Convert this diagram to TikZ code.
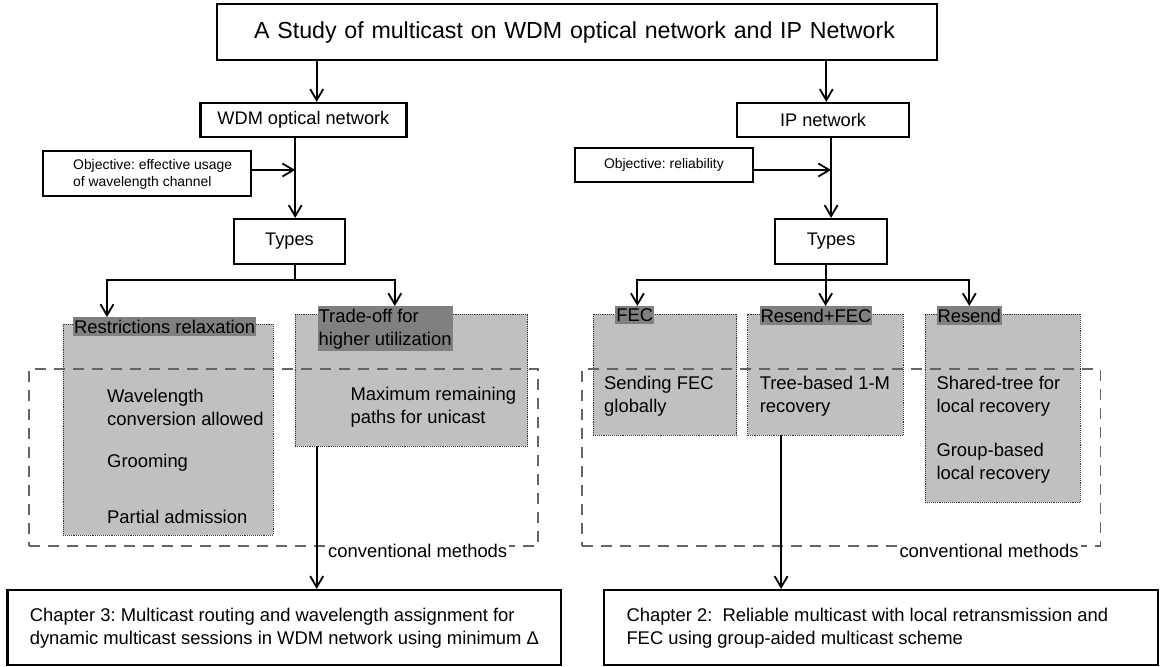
\documentclass[tikz,border=0pt]{standalone}
\usepackage{fontspec}
\setmainfont{Liberation Sans}
\usetikzlibrary{arrows.meta,calc}
\definecolor{boxgray}{RGB}{192,192,192}
\definecolor{labgray}{RGB}{128,128,128}
\definecolor{dashgray}{RGB}{100,100,100}
\tikzset{
  solidbox/.style={draw=black, line width=2.2pt, rectangle, inner sep=0pt},
  conn/.style={line width=2pt, -{Straight Barb[length=11pt,width=13pt,line width=1.8pt]}},
  plain/.style={line width=2pt},
  graybox/.style={draw=black!80, densely dotted, line width=0.9pt, fill=boxgray, rectangle, inner sep=0pt},
  grouplabel/.style={fill=labgray, inner xsep=1pt, inner ysep=2.5pt, align=left, font=\fontsize{18.4}{23}\selectfont},
  bodytext/.style={inner sep=0pt, anchor=west, align=left, font=\fontsize{18.4}{23}\selectfont},
  methodframe/.style={draw=dashgray, dash pattern=on 11pt off 8pt, line width=1.4pt, rectangle, inner sep=0pt},
  methodlabel/.style={fill=white, inner xsep=2pt, inner ysep=1pt, anchor=west, font=\fontsize{18.4}{23}\selectfont},
}
\begin{document}
\frenchspacing
\begin{tikzpicture}[x=1pt,y=-1pt]
\useasboundingbox (0,0) rectangle (1160,667);

% headline and the two network branches
\node[solidbox, minimum width=720pt, minimum height=56pt, text width=645pt, align=left,
      font=\fontsize{23.2}{28}\selectfont]
  (title) at (576.7,32) {A Study of multicast on WDM optical network and IP Network};
\node[solidbox, minimum width=206pt, minimum height=34pt, font=\fontsize{18.2}{22}\selectfont]
  (wdm) at (303.4,120) {WDM optical network};
\node[solidbox, minimum width=172.6pt, minimum height=34pt, font=\fontsize{18.2}{22}\selectfont]
  (ip) at (823,120) {IP network};

% objectives
\node[solidbox, minimum width=208pt, minimum height=45pt] (obj1) at (147,173.5) {};
\node[inner sep=0pt, anchor=west, align=left, font=\fontsize{13.9}{17}\selectfont]
  (obj1text) at (73,174.5) {Objective: effective usage\\of wavelength channel};
\node[solidbox, minimum width=178.3pt, minimum height=34pt, font=\fontsize{13.9}{17}\selectfont]
  (obj2) at (663.9,165) {Objective: reliability};

% types
\node[solidbox, minimum width=111.5pt, minimum height=45pt, font=\fontsize{18.2}{22}\selectfont]
  (types1) at (289.5,241.5) {Types};
\node[solidbox, minimum width=111.8pt, minimum height=45pt, font=\fontsize{18.2}{22}\selectfont]
  (types2) at (831.1,241.5) {Types};

% junction points
\coordinate (ta) at (316.7,0);
\coordinate (tb) at (826.3,0);
\coordinate (m1) at (295.2,170);
\coordinate (m2) at (831.1,170);
\coordinate (s1) at (295.2,280);
\coordinate (s2) at (825.6,280);

% gray method groups
\node[graybox, minimum width=210pt, minimum height=211pt] (g1) at (168,429.5) {};
\node[graybox, minimum width=232.6pt, minimum height=132pt] (g2) at (411.5,380) {};
\node[graybox, minimum width=143.7pt, minimum height=121pt] (g3) at (664.9,374.5) {};
\node[graybox, minimum width=155.5pt, minimum height=121pt] (g4) at (825.6,374.5) {};
\node[graybox, minimum width=155.2pt, minimum height=188pt] (g5) at (1002.8,408) {};

% group labels
\node[grouplabel, anchor=north west] (l1) at (73,317) {Restrictions relaxation};
\node[grouplabel, anchor=north west] (l2) at (317.4,306) {Trade-off for\\higher utilization};
\node[grouplabel, anchor=north west] (l3) at (615.2,306) {FEC};
\node[grouplabel, anchor=north west] (l4) at (759.3,306) {Resend+FEC};
\node[grouplabel, anchor=north west] (l5) at (936.3,306) {Resend};

% group contents
\node[bodytext] (t1) at (107,407.5) {Wavelength\\conversion allowed};
\node[bodytext] (t2) at (107,463) {Grooming};
\node[bodytext] (t3) at (107,517) {Partial admission};
\node[bodytext] (t4) at (350.4,407.5) {Maximum remaining\\paths for unicast};
\node[bodytext] (t5) at (604,396.5) {Sending FEC\\globally};
\node[bodytext] (t6) at (759.6,396.5) {Tree-based 1-M\\recovery};
\node[bodytext] (t7) at (936.3,396.5) {Shared-tree for\\local recovery};
\node[bodytext] (t8) at (936.3,463.5) {Group-based\\local recovery};

% dashed frames around conventional methods
\node[methodframe, minimum width=509.2pt, minimum height=177pt] (d1) at (283.5,457.5) {};
\node[methodframe, minimum width=518.5pt, minimum height=177pt] (d2) at (841.2,457.5) {};
\node[methodlabel] (c1) at (326,551) {conventional methods};
\node[methodlabel] (c2) at (897.3,551) {conventional methods};

% chapters
\node[solidbox, minimum width=553.7pt, minimum height=75pt] (ch3) at (284.3,627.5) {};
\node[bodytext] (ch3text) at (29.6,628.5) {Chapter 3: Multicast routing and wavelength assignment for\\dynamic multicast sessions in WDM network using minimum Δ};
\node[solidbox, minimum width=553.8pt, minimum height=75pt] (ch2) at (880.9,627.5) {};
\node[bodytext] (ch2text) at (626.3,628.5) {Chapter 2:~ Reliable multicast with local retransmission and\\FEC using group-aided multicast scheme};

% connectors
\draw[conn] (title.south -| ta) -- (wdm.north -| ta);
\draw[conn] (title.south -| tb) -- (ip.north -| tb);
\draw[conn] (wdm.south -| m1) -- (types1.north -| m1);
\draw[conn] (ip.south -| m2) -- (types2.north -| m2);
\draw[conn] (obj1.east |- m1) -- (m1);
\draw[conn] (obj2.east |- m2) -- (m2);

\draw[plain] (types1.south -| s1) -- (s1);
\draw[conn] (s1) -- (s1 -| 107,0) -- (l1.north -| 107,0);
\draw[conn] (s1) -- (s1 -| 394.8,0) -- (l2.north -| 394.8,0);
\draw[plain] (types2.south -| s2) -- (s2);
\draw[conn] (s2) -- (s2 -| 637.4,0) -- (l3.north -| 637.4,0);
\draw[conn] (s2) -- (l4.north -| s2);
\draw[conn] (s2) -- (s2 -| 969.3,0) -- (l5.north -| 969.3,0);

\draw[conn] (g2.south -| ta) -- (ch3.north -| ta);
\draw[conn] (g4.south -| 781.1,0) -- (ch2.north -| 781.1,0);
\end{tikzpicture}
\end{document}
